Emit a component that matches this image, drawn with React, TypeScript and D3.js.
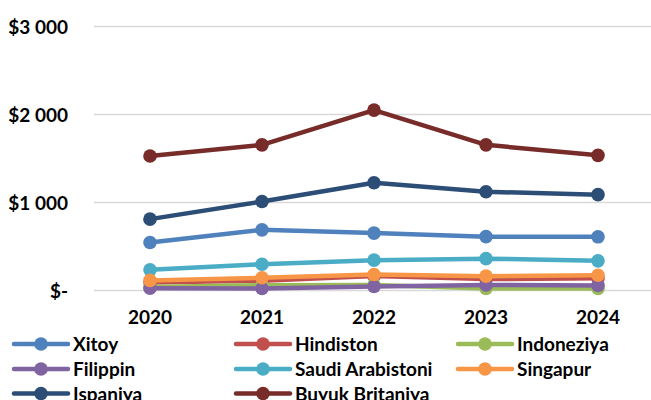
import React from "react";
import * as d3 from "d3";

const years = ["2020", "2021", "2022", "2023", "2024"];
const seriesNames = [
  "Xitoy",
  "Hindiston",
  "Indoneziya",
  "Filippin",
  "Saudi Arabistoni",
  "Singapur",
  "Ispaniya",
  "Buyuk Britaniya",
];
const seriesColors = [
  "#4F81BD",
  "#C0504D",
  "#9BBB59",
  "#8064A2",
  "#4BACC6",
  "#F79646",
  "#2C4D75",
  "#772C2A",
];
const xitoy = [545, 689, 652, 612, 610];
const hindiston = [90, 112, 165, 130, 138];
const indoneziya = [40, 60, 62, 22, 22];
const filippin = [25, 22, 45, 62, 58];
const saudi = [235, 298, 345, 362, 337];
const singapur = [115, 145, 182, 163, 174];
const ispaniya = [811, 1011, 1225, 1122, 1089];
const buyukBritaniya = [1528, 1655, 2050, 1655, 1536];
const seriesValues = [
  xitoy,
  hindiston,
  indoneziya,
  filippin,
  saudi,
  singapur,
  ispaniya,
  buyukBritaniya,
];
const yTicks = [0, 1000, 2000, 3000];
const yTickLabels = ["$-", "$1 000", "$2 000", "$3 000"];

const W = 651;
const H = 400;
const FONT = "Lato, 'Open Sans', sans-serif";
const FS = 19;

export default function App() {
  const x = d3.scalePoint<string>().domain(years).range([94, 654]).padding(0.5);
  const y = d3.scaleLinear().domain([0, 3000]).range([290.5, 26.5]);
  const line = d3
    .line<number>()
    .x((_, i) => x(years[i]) as number)
    .y((d) => y(d));

  const legendCols = [14, 236, 458];
  const legendRows = [344, 369, 393.5];

  return (
    <div style={{ position: "fixed", left: 0, top: 0 }}>
      <svg width={W} height={H} style={{ display: "block", background: "#fff" }}>
        <rect width={W} height={H} fill="#fff" />
        {yTicks.map((t, i) => (
          <g key={t}>
            <line x1={94} x2={W} y1={y(t)} y2={y(t)} stroke="#D9D9D9" strokeWidth={1.5} />
            <text
              x={68}
              y={y(t) + 7}
              textAnchor="end"
              fontFamily={FONT}
              fontWeight="bold"
              fontSize={FS}
              fill="#000"
            >
              {yTickLabels[i]}
            </text>
          </g>
        ))}
        {years.map((yr) => (
          <text
            key={yr}
            x={x(yr) as number}
            y={324}
            textAnchor="middle"
            fontFamily={FONT}
            fontWeight="bold"
            fontSize={FS}
            fill="#000"
          >
            {yr}
          </text>
        ))}
        {seriesValues.map((vals, si) => (
          <g key={seriesNames[si]}>
            <path
              d={line(vals) || ""}
              fill="none"
              stroke={seriesColors[si]}
              strokeWidth={4.5}
              strokeLinejoin="round"
              strokeLinecap="round"
            />
            {vals.map((v, i) => (
              <circle
                key={i}
                cx={x(years[i]) as number}
                cy={y(v)}
                r={6.8}
                fill={seriesColors[si]}
              />
            ))}
          </g>
        ))}
        {seriesNames.map((name, si) => {
          const cx = legendCols[si % 3];
          const cy = legendRows[Math.floor(si / 3)];
          return (
            <g key={name}>
              <line
                x1={cx}
                x2={cx + 54}
                y1={cy}
                y2={cy}
                stroke={seriesColors[si]}
                strokeWidth={4.5}
                strokeLinecap="round"
              />
              <circle cx={cx + 27} cy={cy} r={6.8} fill={seriesColors[si]} />
              <text
                x={cx + 59}
                y={cy + 7}
                fontFamily={FONT}
                fontWeight="bold"
                fontSize={FS}
                fill="#000"
              >
                {name}
              </text>
            </g>
          );
        })}
      </svg>
    </div>
  );
}
